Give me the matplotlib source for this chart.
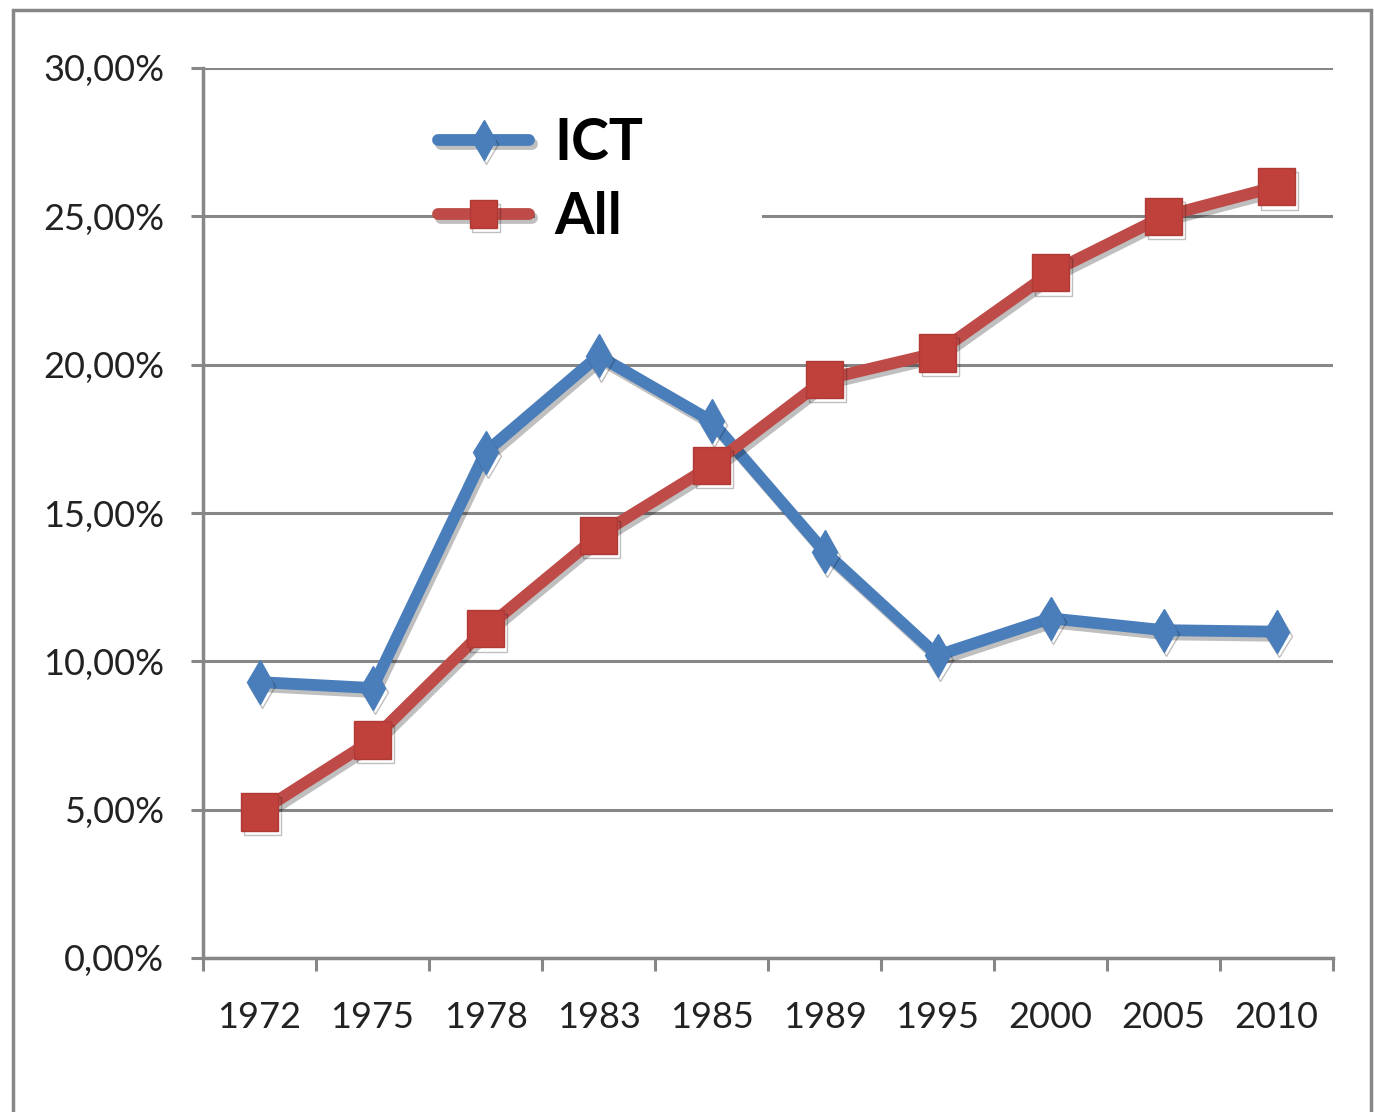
import matplotlib
matplotlib.use('Agg')
import matplotlib.pyplot as plt
import matplotlib.patheffects as pe
from matplotlib.patches import Rectangle
from matplotlib.ticker import FuncFormatter, FixedLocator

plt.rcParams['font.family'] = ['Lato', 'DejaVu Sans']

years = ["1972", "1975", "1978", "1983", "1985", "1989", "1995", "2000", "2005", "2010"]
ict = [9.30, 9.10, 17.05, 20.30, 18.10, 13.70, 10.20, 11.45, 11.05, 11.00]
all_ = [4.92, 7.35, 11.10, 14.25, 16.60, 19.50, 20.40, 23.10, 25.00, 26.00]

BLUE = "#4a7ebb"
RED = "#be4b48"
GRID = "#878787"

W, H = 1374, 1112
fig = plt.figure(figsize=(W / 100, H / 100), dpi=100)
ax = fig.add_axes([203 / W, 1 - 958 / H, (1333 - 203) / W, (958 - 68) / H])

# outer frame of the chart
fig.patches.append(Rectangle((13 / W, -0.05), (1371 - 13) / W, (1112 - 10) / H + 0.05,
                             transform=fig.transFigure, fill=False,
                             edgecolor=GRID, linewidth=2.5))

x = list(range(len(years)))
shadow = [pe.SimpleLineShadow(offset=(2, -3), shadow_color='k', alpha=0.25), pe.Normal()]

l1, = ax.plot(x, ict, color=BLUE, linewidth=8.5, marker='d', markersize=22,
              markerfacecolor=BLUE, markeredgecolor=BLUE, solid_joinstyle='round',
              solid_capstyle='round', label="ICT", zorder=3, path_effects=shadow)
l2, = ax.plot(x, all_, color=RED, linewidth=8.5, marker='s', markersize=27,
              markerfacecolor="#c0403c", markeredgecolor="#b03a36", solid_joinstyle='round',
              solid_capstyle='round', label="All", zorder=4, path_effects=shadow)

ax.set_xlim(-0.5, len(years) - 0.5)
ax.set_ylim(0, 30)
ax.set_yticks([0, 5, 10, 15, 20, 25, 30])
ax.yaxis.set_major_formatter(FuncFormatter(lambda v, p: f"{v:.2f}%".replace(".", ",")))
ax.grid(axis='y', color=GRID, linewidth=2.2, zorder=0)
ax.set_axisbelow(True)

ax.set_xticks(x)
ax.set_xticklabels(years)
ax.xaxis.set_minor_locator(FixedLocator([i - 0.5 for i in range(len(years) + 1)]))
ax.tick_params(axis='x', which='major', length=0, pad=31, labelsize=26, labelcolor='#222222')
ax.tick_params(axis='x', which='minor', length=9, width=2.2, color=GRID)
ax.tick_params(axis='y', which='major', length=9, width=2.2, color=GRID, pad=19,
               labelsize=26, labelcolor='#222222')

for s in ['top', 'right']:
    ax.spines[s].set_visible(False)
for s in ['left', 'bottom']:
    ax.spines[s].set_color(GRID)
    ax.spines[s].set_linewidth(2.5)

# white box behind the legend hides the gridline
ax.add_patch(Rectangle((535 / W, 1 - 260 / H), (762 - 535) / W, 160 / H,
                       transform=fig.transFigure, facecolor='white',
                       edgecolor='none', zorder=1))

leg = ax.legend(handles=[l1, l2], loc='upper left',
                bbox_to_anchor=(438 / W, 1 - 117 / H), bbox_transform=fig.transFigure,
                frameon=False, borderpad=0, borderaxespad=0,
                handlelength=1.6, handletextpad=0.45, labelspacing=0.37,
                prop={'size': 41, 'weight': 'bold'})
for h in leg.legend_handles:
    h.set_markersize(20)

fig.savefig("out.png", dpi=100)
